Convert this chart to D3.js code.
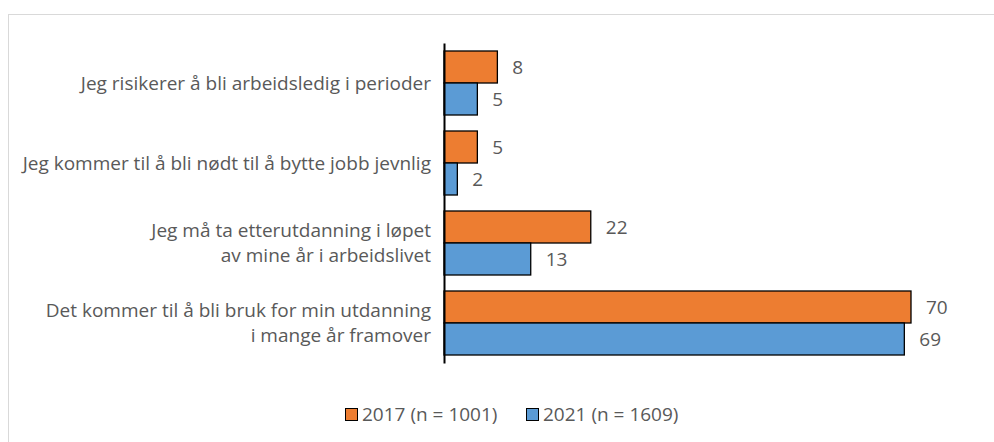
<!DOCTYPE html>
<html>
<head>
<meta charset="utf-8">
<script src="https://cdn.jsdelivr.net/npm/d3@7"></script>
<style>
  body { margin: 0; background: #fff; }
  svg text { font-family: "Open Sans", sans-serif; fill: #595959; font-size: 19px; }
</style>
</head>
<body>
<div id="chart"></div>
<script>
var categories = [
  ["Jeg risikerer å bli arbeidsledig i perioder"],
  ["Jeg kommer til å bli nødt til å bytte jobb jevnlig"],
  ["Jeg må ta etterutdanning i løpet", "av mine år i arbeidslivet"],
  ["Det kommer til å bli bruk for min utdanning", "i mange år framover"]
];
var series = ["2017 (n = 1001)", "2021 (n = 1609)"];
var values2017 = [8, 5, 22, 70];
var values2021 = [5, 2, 13, 69];
var colors = ["#ED7D31", "#5B9BD5"];

var width = 994, height = 442;
var svg = d3.select("#chart").append("svg")
    .attr("width", width)
    .attr("height", height);

// outer chart border (only top and left fall inside the picture)
svg.append("rect")
    .attr("x", 8.5).attr("y", 14.5)
    .attr("width", 1000).attr("height", 1000)
    .style("fill", "none")
    .style("stroke", "#D9D9D9")
    .style("stroke-width", 1);

var keys = categories.map(function(d, i) { return "c" + i; });

var x = d3.scaleLinear().domain([0, 70]).range([444, 911]);
var y = d3.scaleBand().domain(keys).range([43, 363])
    .paddingInner(0.2).paddingOuter(0.1);
var ySub = d3.scaleBand().domain([0, 1]).range([0, y.bandwidth()]);

var data = [values2017, values2021];

data.forEach(function(vals, s) {
  svg.append("g").selectAll("rect")
    .data(vals)
    .join("rect")
      .attr("x", x(0))
      .attr("y", function(d, i) { return y(keys[i]) + ySub(s); })
      .attr("width", function(d) { return x(d) - x(0); })
      .attr("height", ySub.bandwidth())
      .style("fill", colors[s])
      .style("stroke", "#000")
      .style("stroke-width", 1.3);

  svg.append("g").selectAll("text")
    .data(vals)
    .join("text")
      .attr("x", function(d) { return x(d) + 15; })
      .attr("y", function(d, i) { return y(keys[i]) + ySub(s) + ySub.bandwidth() / 2; })
      .attr("dy", ".35em")
      .text(function(d) { return d; });
});

// category axis
var yAxis = svg.append("g")
    .attr("transform", "translate(" + x(0) + ",0)")
    .call(d3.axisLeft(y).tickSize(0).tickFormat(""));
yAxis.select(".domain").attr("stroke", "#000").attr("stroke-width", 2);

var lineGap = 25;
var labels = svg.append("g").selectAll("text")
  .data(categories)
  .join("text")
    .attr("x", 431)
    .attr("y", function(d, i) {
      return y(keys[i]) + y.bandwidth() / 2 - (d.length - 1) * lineGap / 2;
    })
    .attr("text-anchor", "end");
labels.each(function(lines) {
  var t = d3.select(this);
  lines.forEach(function(line, j) {
    t.append("tspan")
      .attr("x", 431)
      .attr("dy", j === 0 ? "0.35em" : lineGap)
      .text(line);
  });
});

// legend
var legendX = [345, 526];
var legend = svg.append("g").selectAll("g")
  .data(series)
  .join("g")
    .attr("transform", function(d, i) { return "translate(" + legendX[i] + ",414)"; });
legend.append("rect")
    .attr("x", 0.5).attr("y", -5.5)
    .attr("width", 12).attr("height", 12)
    .style("fill", function(d, i) { return colors[i]; })
    .style("stroke", "#000")
    .style("stroke-width", 1);
legend.append("text")
    .attr("x", 17)
    .attr("dy", ".35em")
    .text(function(d) { return d; });
</script>
</body>
</html>
